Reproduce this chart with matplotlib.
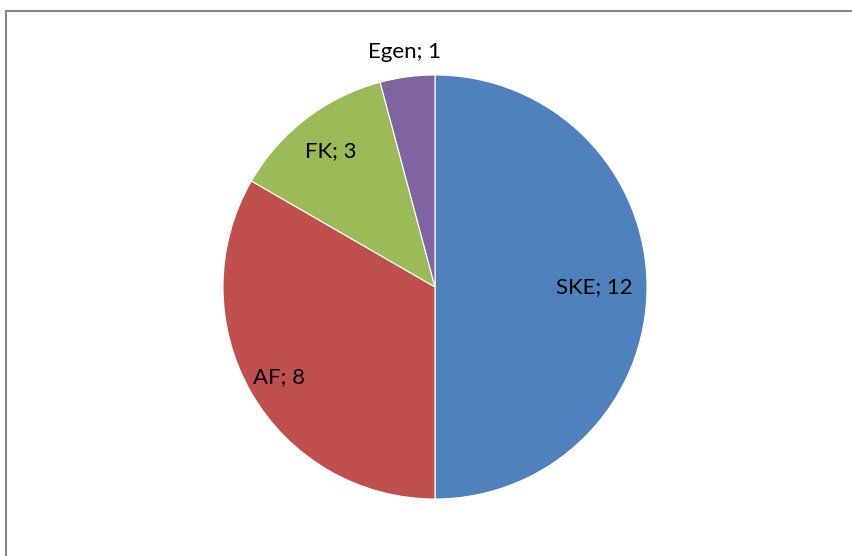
import numpy as np
import matplotlib.pyplot as plt
from matplotlib.patches import Rectangle

# ---------- data ----------
categories = ["SKE", "AF", "FK", "Egen"]
values = [12, 8, 3, 1]
colors = ["#4F81BD", "#C0504D", "#9BBB59", "#8064A2"]

# radial position of each label (fraction of radius) - layout only
label_r = [0.75, 0.85, 0.81, 1.12]

W, H = 853, 556
fig = plt.figure(figsize=(W / 100, H / 100), dpi=100)
ax = fig.add_axes([0, 0, 1, 1])

cx, cy, R = 435, H - 287, 212
wedges, _ = ax.pie(
    values, colors=colors, startangle=90, counterclock=False,
    radius=R, center=(cx, cy), frame=True,
    wedgeprops=dict(edgecolor="white", linewidth=0.8),
)

for w, name, v, lr in zip(wedges, categories, values, label_r):
    ang = np.deg2rad((w.theta1 + w.theta2) / 2)
    ax.text(cx + lr * R * np.cos(ang), cy + lr * R * np.sin(ang),
            f"{name}; {v}", ha="center", va="center",
            fontsize=16, family="Lato", color="black")

ax.set_xlim(0, W)
ax.set_ylim(0, H)
ax.set_aspect("equal")
ax.axis("off")

# chart area border (runs off the right and bottom edges)
ax.add_patch(Rectangle((6.5, -10), W, H - 10.5 + 10, fill=False,
                       edgecolor="#868686", linewidth=1.5, clip_on=False))

fig.savefig("out.png", dpi=100)
